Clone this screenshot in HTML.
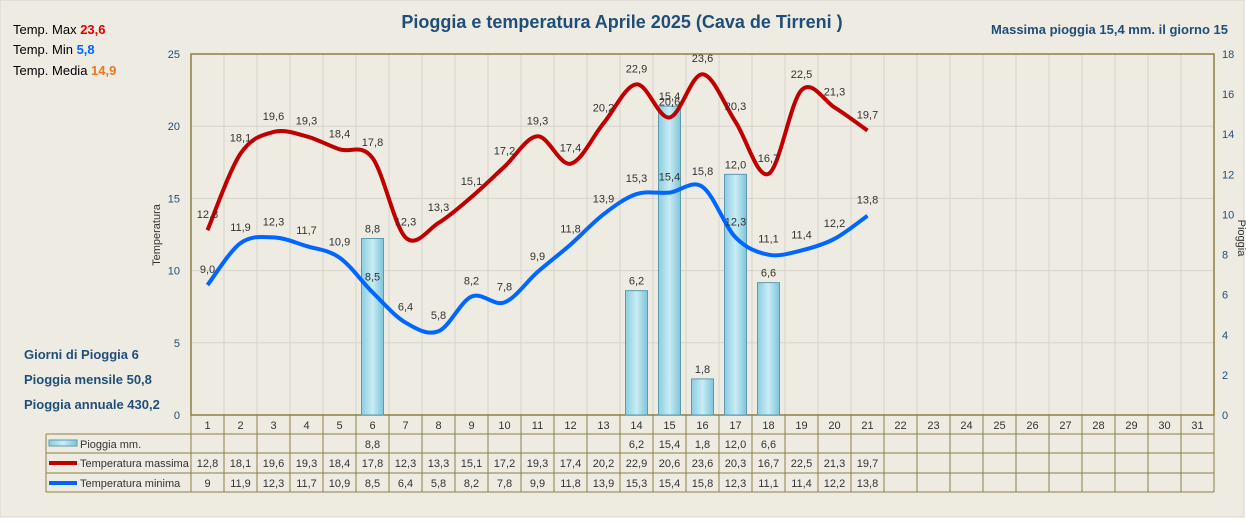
<!DOCTYPE html>
<html><head><meta charset="utf-8"><style>
body{margin:0;background:#fff;}
svg{display:block;font-family:"Liberation Sans",sans-serif;}
</style></head><body>
<svg id="c" width="1246" height="525">
<defs>
<linearGradient id="bg" x1="0" x2="1"><stop offset="0" stop-color="#8ccde0"/><stop offset="0.5" stop-color="#c9ecf5"/><stop offset="1" stop-color="#7fc4da"/></linearGradient>
</defs>
<rect x="0" y="0" width="1244" height="517" fill="#eeebe2" stroke="#d8d5cc"/>
<g id="grid"></g><g id="bars"></g><g id="lines"></g><g id="labels"></g><g id="table"></g>
<text x="622" y="28" text-anchor="middle" font-size="18" font-weight="bold" fill="#1f4e79">Pioggia e temperatura Aprile 2025 (Cava de Tirreni )</text>
<text x="1228" y="34" text-anchor="end" font-size="13" font-weight="bold" fill="#1f4e79">Massima pioggia  15,4 mm. il giorno 15</text>
<text x="13" y="34" font-size="13">Temp. Max <tspan fill="#e00000" font-weight="bold">23,6</tspan></text>
<text x="13" y="54" font-size="13">Temp. Min <tspan fill="#0066ff" font-weight="bold">5,8</tspan></text>
<text x="13" y="75" font-size="13">Temp. Media <tspan fill="#e87722" font-weight="bold">14,9</tspan></text>
<g font-size="13" font-weight="bold" fill="#1f4e79">
<text x="24" y="359">Giorni di Pioggia  6</text>
<text x="24" y="384">Pioggia mensile   50,8</text>
<text x="24" y="409">Pioggia annuale   430,2</text>
</g>
<text transform="translate(160,235) rotate(-90)" text-anchor="middle" font-size="11" fill="#333">Temperatura</text>
<text transform="translate(1238,238) rotate(90)" text-anchor="middle" font-size="11" fill="#333">Pioggia</text>
</svg>
<script>
const days=[1,2,3,4,5,6,7,8,9,10,11,12,13,14,15,16,17,18,19,20,21,22,23,24,25,26,27,28,29,30,31];
const rain=[null,null,null,null,null,8.8,null,null,null,null,null,null,null,6.2,15.4,1.8,12.0,6.6,null,null,null];
const tmax=[12.8,18.1,19.6,19.3,18.4,17.8,12.3,13.3,15.1,17.2,19.3,17.4,20.2,22.9,20.6,23.6,20.3,16.7,22.5,21.3,19.7];
const tmin=[9,11.9,12.3,11.7,10.9,8.5,6.4,5.8,8.2,7.8,9.9,11.8,13.9,15.3,15.4,15.8,12.3,11.1,11.4,12.2,13.8];
const leftTicks=[0,5,10,15,20,25];
const rightTicks=[0,2,4,6,8,10,12,14,16,18];
const NS="http://www.w3.org/2000/svg";
const X0=191,CW=33,Y0=415,Y1=54;
const xc=i=>X0+CW*i+CW/2;
const yT=v=>Y0-(v/25)*(Y0-Y1);
const yR=v=>Y0-(v/18)*(Y0-Y1);
const fmt=v=>v.toFixed(1).replace('.',',');
function mk(p,tag,a,txt){const e=document.createElementNS(NS,tag);for(const k in a)e.setAttribute(k,a[k]);if(txt!=null)e.textContent=txt;document.getElementById(p).appendChild(e);return e;}
// grid
for(let i=0;i<=days.length;i++){const l=mk('grid','line',{x1:X0+CW*i,x2:X0+CW*i,y1:Y1,y2:Y0,stroke:'#d6d3ca'});

}
leftTicks.forEach(v=>{const l=mk('grid','line',{x1:X0,x2:X0+CW*31,y1:yT(v),y2:yT(v),stroke:'#d6d3ca'});


const t=mk('grid','text',{x:180,y:yT(v)+4,'text-anchor':'end','font-size':11,fill:'#1f4e79'},v);

});
rightTicks.forEach(v=>{const t=mk('grid','text',{x:1222,y:yR(v)+4,'font-size':11,fill:'#1f4e79'},v);

});
const fr=mk('grid','rect',{x:X0,y:Y1,width:CW*31,height:Y0-Y1,fill:'none',stroke:'#8b8045','stroke-width':1.5});


// bars
rain.forEach((v,i)=>{if(v==null)return;const b=mk('bars','rect',{x:xc(i)-11,y:yR(v),width:22,height:Y0-yR(v),fill:'url(#bg)',stroke:'#5a9bb0'});


const t=mk('labels','text',{x:xc(i),y:yR(v)-6,'text-anchor':'middle','font-size':11,fill:'#333'},fmt(v));

});
// smooth lines
function path(arr,yf){const p=arr.map((v,i)=>[xc(i),yf(v)]);let d='M'+p[0];for(let i=0;i<p.length-1;i++){const p0=p[i-1]||p[i],p1=p[i],p2=p[i+1],p3=p[i+2]||p2;const k=6;d+=' C'+(p1[0]+(p2[0]-p0[0])/k)+','+(p1[1]+(p2[1]-p0[1])/k)+' '+(p2[0]-(p3[0]-p1[0])/k)+','+(p2[1]-(p3[1]-p1[1])/k)+' '+p2;}return d;}
const lmax=mk('lines','path',{d:path(tmax,yT),fill:'none',stroke:'#c00000','stroke-width':4});


const lmin=mk('lines','path',{d:path(tmin,yT),fill:'none',stroke:'#0066ff','stroke-width':4});


tmax.forEach((v,i)=>{const t=mk('labels','text',{x:xc(i),y:yT(v)-12,'text-anchor':'middle','font-size':11,fill:'#333'},fmt(v));

});
tmin.forEach((v,i)=>{const t=mk('labels','text',{x:xc(i),y:yT(v)-12,'text-anchor':'middle','font-size':11,fill:'#333'},fmt(v));

});
// table
const rows=[434,453,473,492];const LX=46;
const tl='#8b8045';
days.forEach((d,i)=>{const t=mk('table','text',{x:xc(i),y:429,'text-anchor':'middle','font-size':11,fill:'#333'},d);

});
for(let i=0;i<=31;i++){mk('table','line',{x1:X0+CW*i,x2:X0+CW*i,y1:415,y2:492,stroke:tl});}
mk('table','line',{x1:LX,x2:LX,y1:434,y2:492,stroke:tl});
rows.forEach(y=>mk('table','line',{x1:LX,x2:X0+CW*31,y1:y,y2:y,stroke:tl}));
const names=['Pioggia mm.','Temperatura massima','Temperatura minima'];
const data=[rain,tmax,tmin];
names.forEach((n,r)=>{const y=rows[r]+14;
const t=mk('table','text',{x:80,y:y,'font-size':11,fill:'#333'},n);


if(r==0)mk('table','rect',{x:49,y:rows[r]+6,width:28,height:6,fill:'url(#bg)',stroke:'#5a9bb0'});
else mk('table','line',{x1:49,x2:77,y1:rows[r]+10,y2:rows[r]+10,stroke:r==1?'#c00000':'#0066ff','stroke-width':4});
data[r].forEach((v,i)=>{if(v==null)return;const c=mk('table','text',{x:xc(i),y:y,'text-anchor':'middle','font-size':11,fill:'#333'},r==2&&Number.isInteger(v)?String(v):fmt(v));

});});
</script>
</body></html>
